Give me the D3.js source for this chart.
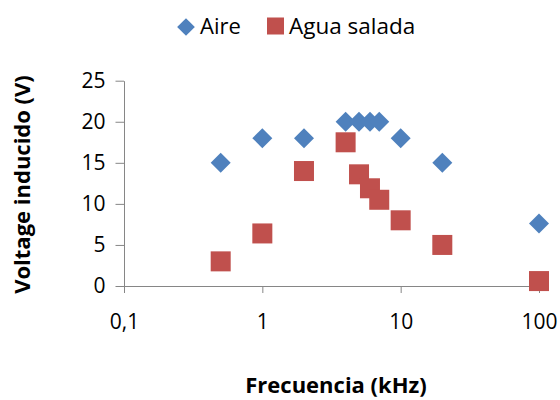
<!DOCTYPE html>
<html>
<head>
<meta charset="utf-8">
<script src="https://cdn.jsdelivr.net/npm/d3@7"></script>
<style>
  body { margin: 0; background: #fff; }
  text { font-family: "Open Sans", Lato, sans-serif; }
</style>
</head>
<body>
<svg id="chart"></svg>
<script>
const freq = [0.5, 1, 2, 4, 5, 6, 7, 10, 20, 100]
const aire = [15, 18, 18, 20, 20, 20, 20, 18, 15, 7.6]
const aguaSalada = [3, 6.4, 14, 17.5, 13.6, 11.9, 10.5, 8, 5, 0.6]
const xTicks = [0.1, 1, 10, 100]
const xTickLabels = ["0,1", "1", "10", "100"]
const yTicks = [0, 5, 10, 15, 20, 25]

const dimensions = { width: 560, height: 400 }
const svg = d3.select("#chart")
  .attr("width", dimensions.width)
  .attr("height", dimensions.height)

const x = d3.scaleLog().domain([0.1, 100]).range([124, 539])
const y = d3.scaleLinear().domain([0, 25]).range([286, 80.7])
const axisColor = "#868686"
const fontFam = "'Open Sans', Lato, sans-serif"

// y axis
const yAxis = svg.append("g")
  .attr("transform", "translate(124,0)")
  .call(d3.axisLeft(y).tickValues(yTicks).tickSize(8.5).tickPadding(10).tickSizeOuter(0))
yAxis.select(".domain").attr("stroke", axisColor)
yAxis.selectAll(".tick line").attr("stroke", axisColor)
yAxis.selectAll("text").attr("font-size", 21).attr("fill", "#000")
  .attr("font-family", fontFam)

// x axis
const xAxis = svg.append("g")
  .attr("transform", "translate(0,286)")
  .call(d3.axisBottom(x).tickValues(xTicks).tickFormat((d, i) => xTickLabels[i])
    .tickSize(7).tickPadding(21).tickSizeOuter(0))
xAxis.select(".domain").attr("stroke", axisColor)
xAxis.selectAll(".tick line").attr("stroke", axisColor)
xAxis.selectAll("text").attr("font-size", 21).attr("fill", "#000")
  .attr("font-family", fontFam)

// series
const pts = freq.map((f, i) => ({ f: f, a: aire[i], s: aguaSalada[i] }))

svg.selectAll(".sq").data(pts).enter().append("rect")
  .attr("x", d => x(d.f) - 10)
  .attr("y", d => y(d.s) - 10)
  .attr("width", 20)
  .attr("height", 20)
  .attr("fill", "#C0504D")

svg.selectAll(".dm").data(pts).enter().append("path")
  .attr("d", d3.symbol().type(d3.symbolDiamond2).size(255))
  .attr("transform", d => `translate(${x(d.f)},${y(d.a)})`)
  .attr("fill", "#4F81BD")

// legend
svg.append("path")
  .attr("d", d3.symbol().type(d3.symbolDiamond2).size(200))
  .attr("transform", "translate(186,27)")
  .attr("fill", "#4F81BD")
svg.append("text").attr("x", 200).attr("y", 34).attr("font-size", 22).text("Aire")
svg.append("rect").attr("x", 267).attr("y", 17.5).attr("width", 17).attr("height", 17)
  .attr("fill", "#C0504D")
svg.append("text").attr("x", 289).attr("y", 34).attr("font-size", 22.5).text("Agua salada")

// axis titles
svg.append("text")
  .attr("transform", "translate(30,184.5) rotate(-90)")
  .attr("text-anchor", "middle")
  .attr("font-size", 22).attr("font-weight", "bold")
  .text("Voltage inducido (V)")
svg.append("text")
  .attr("x", 336).attr("y", 393)
  .attr("text-anchor", "middle")
  .attr("font-size", 22).attr("font-weight", "bold")
  .text("Frecuencia (kHz)")
</script>
</body>
</html>
